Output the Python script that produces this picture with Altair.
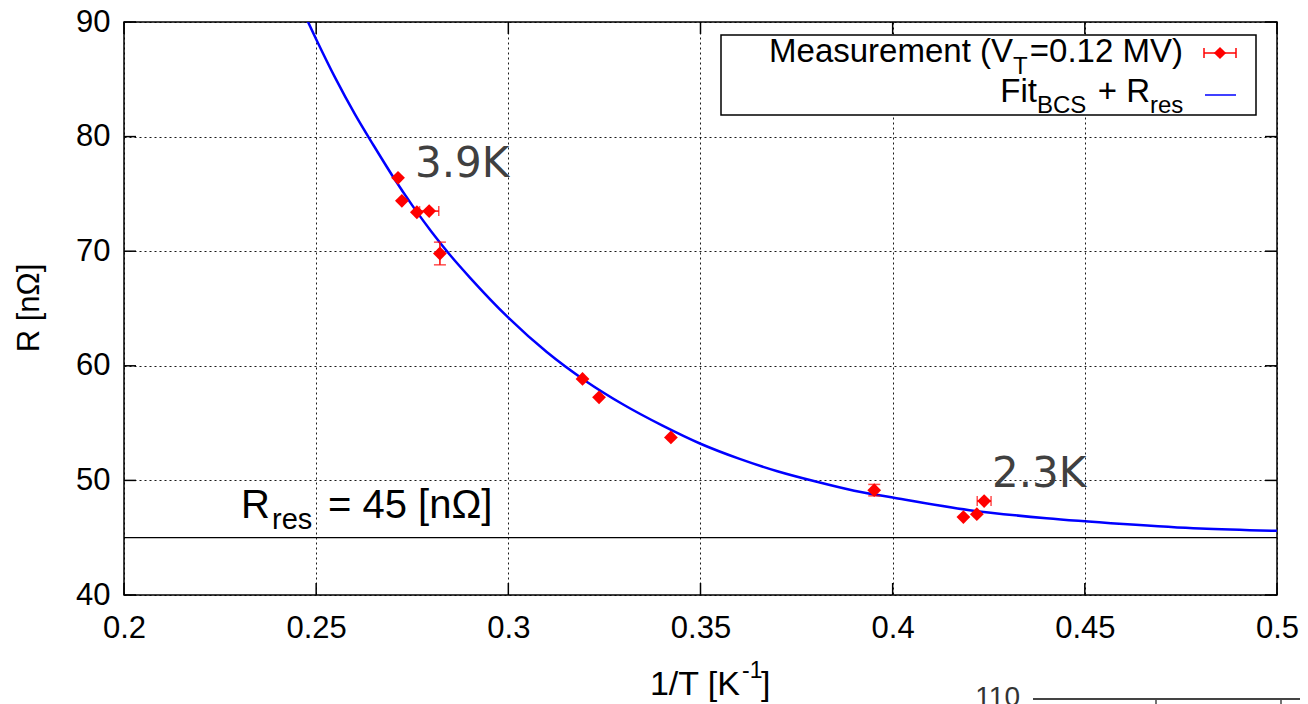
import altair as alt
import pandas as pd

# ---- data ----
inv_T = [0.2713, 0.2723, 0.2762, 0.2794, 0.2822, 0.3193, 0.3236, 0.3423, 0.3952, 0.4184, 0.4219, 0.4238]
R_meas = [76.4, 74.4, 73.4, 73.5, 69.8, 58.85, 57.25, 53.75, 49.15, 46.8, 47.05, 48.2]
R_err = [0, 0, 0, 0, 0.99, 0, 0, 0, 0.5, 0, 0, 0]
invT_err = [0, 0, 0, 0.0025, 0, 0, 0, 0, 0, 0, 0, 0.0018]

fit_invT = [0.245, 0.25, 0.255, 0.26, 0.265, 0.27, 0.275, 0.28, 0.285, 0.29, 0.30, 0.31, 0.32,
            0.33, 0.34, 0.35, 0.36, 0.37, 0.38, 0.39, 0.40, 0.42, 0.44, 0.46, 0.48, 0.50]
fit_R = [92.1, 88.5, 85.1, 82.0, 79.2, 76.5, 74.0, 71.7, 69.6, 67.7, 64.2, 61.2, 58.7,
         56.6, 54.8, 53.2, 51.9, 50.8, 49.9, 49.1, 48.5, 47.4, 46.7, 46.2, 45.8, 45.6]

x_ticks = [0.2, 0.25, 0.3, 0.35, 0.4, 0.45, 0.5]
y_ticks = [40, 50, 60, 70, 80, 90]
R_res = [45]

W, H = 1153, 573
FONT = "Liberation Sans"

xs = alt.Scale(domain=[0.2, 0.5], nice=False, zero=False)
ys = alt.Scale(domain=[40, 90], nice=False, zero=False)

xaxis = alt.Axis(values=x_ticks, format=".2~f", title=None, ticks=False, domain=False,
                 grid=True, gridColor="black", gridDash=[2, 3], gridWidth=1, gridOpacity=0.9,
                 labelFont=FONT, labelFontSize=31, labelColor="black", labelPadding=18,
                 labelFlush=False)
yaxis = alt.Axis(values=y_ticks, title=None, ticks=False, domain=False,
                 grid=True, gridColor="black", gridDash=[2, 3], gridWidth=1, gridOpacity=0.9,
                 labelFont=FONT, labelFontSize=31, labelColor="black", labelPadding=14)

pts = pd.DataFrame({"invT": inv_T, "R": R_meas, "Rerr": R_err, "xerr": invT_err})
fit = pd.DataFrame({"invT": fit_invT, "R": fit_R})


def X(f):
    return alt.X(f, scale=xs, axis=xaxis)


def Y(f):
    return alt.Y(f, scale=ys, axis=yaxis)


curve = alt.Chart(fit).mark_line(color="#0000ff", strokeWidth=2.5, clip=True, interpolate="monotone").encode(
    x=X("invT:Q"), y=Y("R:Q"))

res_line = alt.Chart(pd.DataFrame({"R": R_res})).mark_rule(color="black", strokeWidth=1.3).encode(y=Y("R:Q"))

# inward ticks (gnuplot style, mirrored)
xt = pd.DataFrame({"invT": x_ticks})
yt = pd.DataFrame({"R": y_ticks})
tick_style = dict(color="black", strokeWidth=1.5)
xt_bot = alt.Chart(xt).mark_rule(**tick_style).encode(x=X("invT:Q"), y=alt.value(H), y2=alt.value(H - 12))
xt_top = alt.Chart(xt).mark_rule(**tick_style).encode(x=X("invT:Q"), y=alt.value(0), y2=alt.value(12))
yt_left = alt.Chart(yt).mark_rule(**tick_style).encode(y=Y("R:Q"), x=alt.value(0), x2=alt.value(12))
yt_right = alt.Chart(yt).mark_rule(**tick_style).encode(y=Y("R:Q"), x=alt.value(W), x2=alt.value(W - 12))

RED = "#ff0000"
verr = alt.Chart(pts).transform_filter("datum.Rerr > 0").transform_calculate(
    lo="datum.R - datum.Rerr", hi="datum.R + datum.Rerr")
verr_rule = verr.mark_rule(color=RED, strokeWidth=1.5).encode(x=X("invT:Q"), y=Y("lo:Q"), y2="hi:Q")
verr_lo = verr.mark_tick(orient="horizontal", size=12, thickness=1.5, color=RED).encode(x=X("invT:Q"), y=Y("lo:Q"))
verr_hi = verr.mark_tick(orient="horizontal", size=12, thickness=1.5, color=RED).encode(x=X("invT:Q"), y=Y("hi:Q"))

herr = alt.Chart(pts).transform_filter("datum.xerr > 0").transform_calculate(
    xlo="datum.invT - datum.xerr", xhi="datum.invT + datum.xerr")
herr_rule = herr.mark_rule(color=RED, strokeWidth=1.5).encode(x=X("xlo:Q"), x2="xhi:Q", y=Y("R:Q"))
herr_lo = herr.mark_tick(orient="vertical", size=10, thickness=1.5, color=RED).encode(x=X("xlo:Q"), y=Y("R:Q"))
herr_hi = herr.mark_tick(orient="vertical", size=10, thickness=1.5, color=RED).encode(x=X("xhi:Q"), y=Y("R:Q"))

points = alt.Chart(pts).mark_point(shape="diamond", filled=True, size=190, color=RED, opacity=1).encode(
    x=X("invT:Q"), y=Y("R:Q"))

one = pd.DataFrame({"k": [0]})


def label(txt, x, y, size, align="left", baseline="alphabetic", color="black", font=FONT, angle=0):
    return alt.Chart(pd.DataFrame({"t": [txt]})).mark_text(
        align=align, baseline=baseline, fontSize=size, font=font, color=color, angle=angle
    ).encode(x=alt.value(x), y=alt.value(y), text="t:N")


# legend box and symbols
leg_box = alt.Chart(one).mark_rect(fill="white", stroke="black", strokeWidth=1.5).encode(
    x=alt.value(597), x2=alt.value(1132), y=alt.value(13), y2=alt.value(93))
leg_red = alt.Chart(one).mark_rule(color=RED, strokeWidth=1.5).encode(
    x=alt.value(1080), x2=alt.value(1112), y=alt.value(31))
leg_cap1 = alt.Chart(one).mark_rule(color=RED, strokeWidth=1.5).encode(
    x=alt.value(1080), y=alt.value(26), y2=alt.value(36))
leg_cap2 = alt.Chart(one).mark_rule(color=RED, strokeWidth=1.5).encode(
    x=alt.value(1112), y=alt.value(26), y2=alt.value(36))
leg_pt = alt.Chart(one).mark_point(shape="diamond", filled=True, size=150, color=RED, opacity=1).encode(
    x=alt.value(1096), y=alt.value(31))
leg_blue = alt.Chart(one).mark_rule(color="#0000ff", strokeWidth=1.5).encode(
    x=alt.value(1081), x2=alt.value(1112), y=alt.value(73))

texts = [
    # legend line 1
    label("Measurement (V", 889, 40, 33, align="right"),
    label("T", 889, 52, 24),
    label("=0.12 MV)", 1059, 40, 33, align="right"),
    # legend line 2
    label("Fit", 913, 80, 33, align="right"),
    label("BCS", 913, 91, 24),
    label("+ R", 1026, 80, 33, align="right"),
    label("res", 1026, 91, 24),
    # R_res annotation
    label("R", 117, 496, 40),
    label("res", 148, 507, 29),
    label("= 45 [nΩ]", 204, 496, 40),
    # temperature annotations
    label("3.9K", 291, 155, 42, color="#404040", font="DejaVu Sans"),
    label("2.3K", 868, 465, 42, color="#404040", font="DejaVu Sans"),
    # axis titles
    label("1/T [K", 616, 673, 34, align="right"),
    label("-1", 618, 656, 23),
    label("]", 637, 673, 34),
    label("R [nΩ]", -94, 286, 31, align="center", baseline="middle", angle=270),
    # fragment of the next figure at the bottom edge
    label("110", 896, 662, 28, align="right", baseline="top", color="#333333"),
]

frag_line = alt.Chart(one).mark_rule(color="#444444", strokeWidth=2).encode(
    x=alt.value(909), x2=alt.value(1190), y=alt.value(677))
frag_t1 = alt.Chart(one).mark_rule(color="#444444", strokeWidth=1.5).encode(
    x=alt.value(1032), y=alt.value(677), y2=alt.value(690))
frag_t2 = alt.Chart(one).mark_rule(color="#444444", strokeWidth=1.5).encode(
    x=alt.value(1157), y=alt.value(677), y2=alt.value(690))

chart = alt.layer(
    curve, res_line, xt_bot, xt_top, yt_left, yt_right,
    verr_rule, verr_lo, verr_hi, herr_rule, herr_lo, herr_hi, points,
    leg_box, leg_red, leg_cap1, leg_cap2, leg_pt, leg_blue,
    frag_line, frag_t1, frag_t2,
    *texts
).properties(
    width=W, height=H,
    autosize=alt.AutoSizeParams(type="none"),
    padding={"left": 116, "top": 14, "right": 23, "bottom": 109},
    background="white",
).configure_view(stroke="black", strokeWidth=1.5)

chart.save("out.html", embed_options={"renderer": "svg", "actions": False})
